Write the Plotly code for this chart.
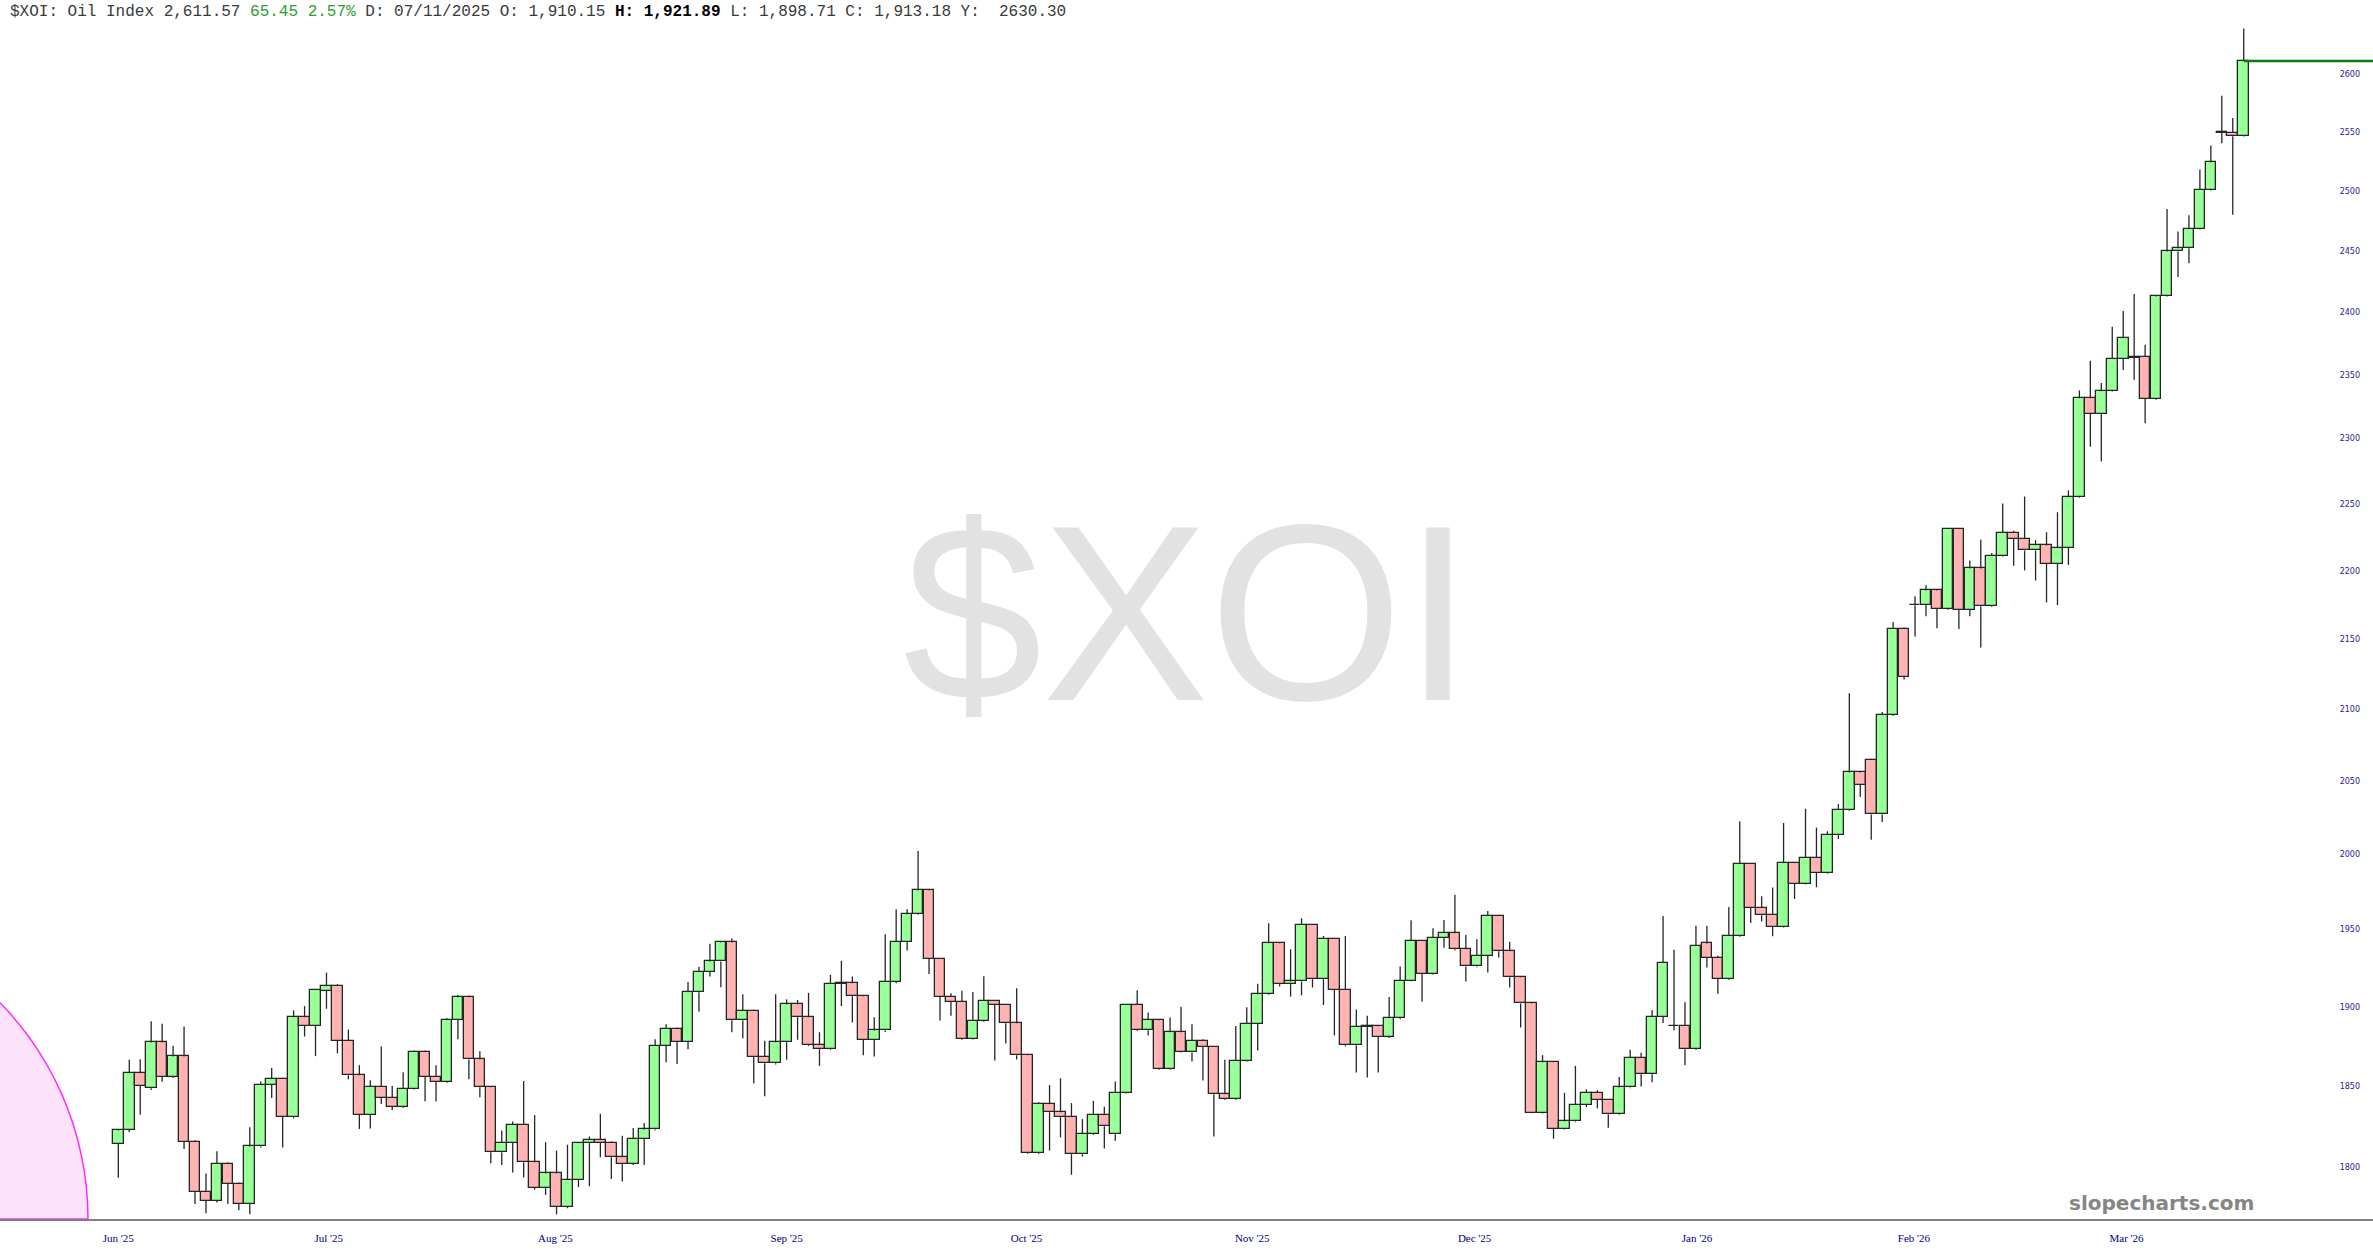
import math
import plotly.graph_objects as go

# ---------------- data ----------------
symbol = "$XOI"
name = "Oil Index"

opens = [1814.4, 1822.8, 1858.0, 1848.6, 1877.3, 1855.9, 1868.5, 1815.8, 1785.2, 1780.1,
         1802.1, 1790.3, 1778.0, 1812.8, 1850.8, 1854.6, 1830.8, 1893.3, 1887.8, 1910.15,
         1913.6, 1878.4, 1856.7, 1832.2, 1849.4, 1842.8, 1837.1, 1848.4, 1871.6, 1855.9,
         1852.7, 1891.6, 1906.0, 1866.6, 1849.2, 1809.3, 1815.2, 1826.1, 1803.2, 1787.6,
         1796.4, 1776.4, 1792.5, 1814.8, 1816.7, 1815.2, 1806.2, 1802.1, 1817.3, 1823.2,
         1875.0, 1886.1, 1877.7, 1909.3, 1922.5, 1929.2, 1941.5, 1891.4, 1897.5, 1868.1,
         1864.3, 1877.5, 1901.5, 1893.3, 1875.6, 1873.1, 1914.7, 1915.1, 1906.7, 1879.0,
         1884.9, 1915.8, 1942.1, 1960.1, 1975.8, 1930.7, 1906.3, 1903.3, 1879.8, 1891.0,
         1903.7, 1901.1, 1889.5, 1869.3, 1808.7, 1838.8, 1833.8, 1830.8, 1808.1, 1820.3,
         1832.0, 1820.3, 1845.9, 1901.1, 1885.1, 1891.4, 1860.9, 1883.8, 1871.0, 1878.4,
         1874.4, 1844.9, 1842.0, 1865.8, 1889.3, 1908.0, 1941.0, 1914.5, 1916.2, 1953.2,
         1917.7, 1944.1, 1910.8, 1875.6, 1887.4, 1887.6, 1880.7, 1892.6, 1916.8, 1942.8,
         1921.2, 1944.5, 1947.5, 1937.1, 1925.9, 1933.0, 1959.2, 1935.8, 1919.0, 1902.1,
         1833.6, 1864.8, 1823.7, 1828.1, 1838.5, 1845.8, 1841.3, 1832.5, 1849.1, 1867.5,
         1857.4, 1893.6, 1887.8, 1888.0, 1873.1, 1940.9, 1931.4, 1917.8, 1945.8, 1993.6,
         1964.4, 1959.4, 1951.8, 1994.0, 1980.3, 1997.6, 1987.6, 2012.9, 2029.9, 2055.8,
         2064.7, 2026.9, 2095.9, 2157.7, 2174.6, 2175.0, 2185.5, 2171.9, 2231.1, 2171.3,
         2201.8, 2173.9, 2211.2, 2228.4, 2223.7, 2215.1, 2218.9, 2205.0, 2217.2, 2255.1,
         2331.4, 2319.1, 2337.0, 2362.6, 2363.3, 2364.2, 2330.8, 2412.7, 2449.5, 2452.1,
         2467.9, 2500.6, 2549.9, 2548.9, 2546.12]

highs = [1823.5, 1866.4, 1866.8, 1890.8, 1889.1, 1875.2, 1887.4, 1816.5, 1796.4, 1809.9,
         1803.0, 1791.0, 1824.6, 1852.9, 1861.3, 1855.2, 1897.7, 1900.4, 1911.2, 1921.89,
         1914.5, 1885.5, 1863.0, 1853.6, 1874.8, 1850.0, 1858.6, 1872.2, 1872.2, 1863.0,
         1892.6, 1907.5, 1907.0, 1871.8, 1850.0, 1822.6, 1828.1, 1853.1, 1832.0, 1815.4,
         1810.3, 1813.8, 1815.5, 1818.9, 1832.8, 1815.8, 1819.3, 1824.0, 1827.1, 1879.4,
         1888.9, 1886.8, 1915.8, 1925.7, 1940.6, 1942.0, 1944.1, 1908.0, 1898.0, 1878.4,
         1908.0, 1904.7, 1904.3, 1908.9, 1883.8, 1920.5, 1929.6, 1919.4, 1907.2, 1893.3,
         1946.9, 1963.4, 1963.4, 2002.2, 1976.5, 1931.3, 1908.7, 1910.2, 1909.5, 1919.6,
         1904.2, 1901.6, 1911.9, 1870.0, 1840.0, 1850.6, 1854.8, 1839.4, 1829.5, 1840.8,
         1837.1, 1852.9, 1901.6, 1910.6, 1896.4, 1892.0, 1893.1, 1900.0, 1888.9, 1879.4,
         1875.0, 1866.4, 1887.8, 1899.6, 1914.7, 1954.1, 1941.5, 1937.1, 1957.4, 1953.6,
         1945.8, 1944.5, 1945.8, 1898.3, 1894.3, 1888.0, 1906.3, 1925.9, 1956.1, 1943.2,
         1950.8, 1956.3, 1972.9, 1946.4, 1943.6, 1962.1, 1959.7, 1942.0, 1919.5, 1902.5,
         1869.3, 1865.3, 1845.8, 1862.6, 1848.0, 1847.4, 1841.8, 1855.6, 1872.7, 1870.9,
         1897.9, 1958.9, 1936.7, 1902.9, 1952.5, 1952.5, 1932.8, 1964.8, 2022.3, 1994.0,
         1972.0, 1977.7, 2021.1, 1994.5, 2030.8, 2018.0, 2015.5, 2034.0, 2111.3, 2056.3,
         2065.2, 2097.9, 2162.4, 2158.5, 2181.2, 2189.3, 2186.0, 2231.7, 2231.6, 2207.7,
         2223.1, 2213.3, 2250.3, 2229.9, 2255.7, 2222.8, 2228.7, 2243.8, 2260.3, 2337.6,
         2361.0, 2343.5, 2388.2, 2400.8, 2414.7, 2373.7, 2413.2, 2484.7, 2466.0, 2479.4,
         2518.0, 2538.2, 2581.1, 2561.9, 2640.1]

lows = [1793.8, 1821.5, 1832.2, 1847.5, 1852.7, 1855.0, 1811.3, 1778.0, 1772.5, 1779.0,
        1778.0, 1774.3, 1771.9, 1812.0, 1842.6, 1812.2, 1830.0, 1881.1, 1868.7, 1898.71,
        1870.4, 1854.2, 1823.4, 1823.8, 1838.8, 1835.1, 1836.5, 1847.8, 1840.6, 1840.4,
        1852.0, 1879.4, 1854.2, 1843.0, 1802.6, 1801.5, 1797.0, 1794.0, 1786.6, 1783.5,
        1771.9, 1775.5, 1788.2, 1788.7, 1806.2, 1793.1, 1791.5, 1801.5, 1801.5, 1822.5,
        1864.9, 1863.7, 1873.1, 1896.8, 1919.4, 1912.5, 1883.8, 1880.0, 1851.5, 1843.7,
        1863.5, 1866.4, 1879.0, 1875.0, 1862.6, 1872.5, 1900.4, 1889.9, 1869.3, 1868.5,
        1884.0, 1915.0, 1936.3, 1959.5, 1921.0, 1891.2, 1894.3, 1879.0, 1879.2, 1890.5,
        1866.0, 1876.7, 1866.6, 1808.2, 1808.2, 1810.3, 1818.3, 1795.6, 1806.6, 1819.8,
        1811.6, 1816.3, 1845.3, 1884.5, 1881.7, 1860.1, 1860.3, 1870.6, 1865.3, 1853.4,
        1818.9, 1841.5, 1841.5, 1865.3, 1872.3, 1907.5, 1913.0, 1906.5, 1907.3, 1912.3,
        1901.1, 1881.7, 1874.8, 1858.4, 1855.3, 1858.4, 1880.2, 1892.0, 1916.3, 1903.2,
        1920.7, 1938.0, 1936.3, 1916.2, 1925.4, 1922.0, 1931.7, 1912.3, 1886.8, 1833.2,
        1833.0, 1817.5, 1823.2, 1827.6, 1836.9, 1836.3, 1824.3, 1832.0, 1848.6, 1849.7,
        1852.4, 1889.6, 1885.0, 1863.0, 1872.6, 1925.2, 1908.3, 1917.3, 1945.3, 1954.2,
        1955.3, 1945.6, 1951.3, 1970.1, 1979.8, 1977.9, 1987.0, 2010.2, 2029.4, 2038.9,
        2009.7, 2021.8, 2095.4, 2121.0, 2152.0, 2166.7, 2158.0, 2171.4, 2157.4, 2166.7,
        2144.0, 2173.4, 2210.7, 2203.8, 2200.3, 2192.8, 2176.8, 2174.8, 2204.4, 2254.6,
        2293.8, 2282.3, 2336.5, 2353.7, 2346.0, 2311.9, 2330.3, 2412.2, 2428.5, 2439.8,
        2467.4, 2500.1, 2540.2, 2479.8, 2545.8]

closes = [1822.6, 1858.0, 1850.0, 1877.3, 1855.9, 1868.5, 1815.8, 1785.2, 1780.1, 1802.1,
          1790.3, 1778.0, 1812.8, 1850.8, 1854.6, 1830.8, 1893.3, 1887.8, 1910.6, 1913.18,
          1878.4, 1856.7, 1832.2, 1849.4, 1842.8, 1837.1, 1848.4, 1871.6, 1855.9, 1852.7,
          1891.6, 1906.0, 1866.6, 1849.2, 1809.3, 1815.2, 1826.1, 1803.2, 1787.6, 1796.4,
          1776.4, 1792.5, 1814.8, 1816.7, 1815.2, 1806.2, 1802.1, 1817.3, 1823.2, 1875.0,
          1886.1, 1877.7, 1909.3, 1922.5, 1929.2, 1941.5, 1891.4, 1897.5, 1868.1, 1864.3,
          1877.5, 1901.5, 1893.3, 1875.6, 1873.1, 1914.7, 1915.1, 1906.7, 1879.0, 1884.9,
          1915.8, 1942.1, 1960.1, 1975.8, 1930.7, 1906.3, 1903.3, 1879.8, 1891.0, 1903.7,
          1901.1, 1889.5, 1869.3, 1808.7, 1838.8, 1833.8, 1830.8, 1808.1, 1820.3, 1832.0,
          1825.1, 1845.9, 1901.1, 1885.1, 1891.4, 1860.9, 1883.8, 1871.0, 1878.4, 1874.4,
          1844.9, 1842.0, 1865.8, 1889.3, 1908.0, 1941.0, 1914.5, 1916.2, 1953.2, 1917.7,
          1944.1, 1910.8, 1875.6, 1887.4, 1887.6, 1880.7, 1892.6, 1916.8, 1942.8, 1921.2,
          1944.5, 1947.5, 1937.1, 1925.9, 1933.0, 1959.2, 1935.8, 1919.0, 1902.1, 1833.6,
          1864.8, 1823.7, 1828.1, 1838.5, 1845.8, 1841.3, 1832.5, 1849.1, 1867.5, 1857.4,
          1893.6, 1928.4, 1888.0, 1873.1, 1939.5, 1931.4, 1917.8, 1945.8, 1993.6, 1964.4,
          1959.4, 1951.8, 1994.0, 1980.3, 1997.6, 1987.6, 2012.9, 2029.9, 2055.8, 2047.1,
          2026.9, 2095.9, 2157.7, 2123.1, 2175.0, 2185.5, 2171.9, 2231.1, 2171.3, 2201.8,
          2173.9, 2211.2, 2228.4, 2223.7, 2215.1, 2218.9, 2205.0, 2217.2, 2255.1, 2331.4,
          2319.1, 2337.0, 2362.6, 2379.0, 2364.2, 2330.8, 2412.7, 2449.5, 2452.1, 2467.9,
          2500.6, 2524.1, 2548.9, 2546.12, 2611.57]

month_labels = ["Jun '25", "Jul '25", "Aug '25", "Sep '25", "Oct '25",
                "Nov '25", "Dec '25", "Jan '26", "Feb '26", "Mar '26"]
month_label_pos = [0, 19.2, 39.9, 61.0, 82.9, 103.5, 123.8, 144.1, 163.9, 183.3]

price_ticks = [1800, 1850, 1900, 1950, 2000, 2050, 2100, 2150, 2200, 2250,
               2300, 2350, 2400, 2450, 2500, 2550, 2600]

# hovered bar shown in header
hover_idx = 19
hover_date = "07/11/2025"
hover_y = "2630.30"

# ---------------- figure ----------------
n = len(closes)
xs = list(range(n))

W, H = 2373, 1260
M_T, M_B = 20, 41
x_range = [-10.80, 205.8]
y_range = [3.247751, 3.422874]  # log10 of price

UP_FILL, DN_FILL, EDGE = "#99FF99", "#FFB3B3", "#262626"

body_lo = [min(o, c) for o, c in zip(opens, closes)]
body_hi = [max(o, c) for o, c in zip(opens, closes)]
body_len = [h - l for h, l in zip(body_hi, body_lo)]
fills = [UP_FILL if c >= o else DN_FILL for o, c in zip(opens, closes)]

# wicks (outside the bodies)
wx, wy = [], []
for i in range(n):
    if highs[i] > body_hi[i]:
        wx += [xs[i], xs[i], None]
        wy += [body_hi[i], highs[i], None]
    if lows[i] < body_lo[i]:
        wx += [xs[i], xs[i], None]
        wy += [lows[i], body_lo[i], None]

fig = go.Figure()

fig.add_trace(go.Bar(
    x=xs, y=body_len, base=body_lo, width=0.97,
    marker=dict(color=fills, line=dict(color=EDGE, width=1.3)),
    hoverinfo="skip", showlegend=False,
))
fig.add_trace(go.Scatter(
    x=wx, y=wy, mode="lines", line=dict(color=EDGE, width=1.3),
    hoverinfo="skip", showlegend=False, connectgaps=False,
))

# last price line
fig.add_trace(go.Scatter(
    x=[xs[-1], x_range[1]], y=[closes[-1], closes[-1]], mode="lines",
    line=dict(color="#0A7D0A", width=2.5), hoverinfo="skip", showlegend=False,
))

# decorative pink arc in lower-left corner (paper coordinates)
plot_h = H - M_T - M_B
cx, rpx = -222.0, 310.0
pts = []
for k in range(0, 91, 3):
    t = math.radians(k)
    pts.append(((cx + rpx * math.cos(t)) / W, (rpx * math.sin(t)) / plot_h))
path = f"M {cx / W:.5f},0 " + " ".join(f"L {px:.5f},{py:.5f}" for px, py in pts) + " Z"
fig.add_shape(type="path", path=path, xref="paper", yref="paper",
              fillcolor="#FCE3FA", line=dict(color="#FF2BFF", width=1.5), layer="below")

last = closes[-1]
prev = closes[-2]
chg = last - prev
pct = chg / prev * 100
header = (f"{symbol}: {name} {last:,.2f} "
          f"<span style='color:#2E9E2E'>{chg:.2f} {pct:.2f}%</span> "
          f"D: {hover_date} O: {opens[hover_idx]:,.2f} "
          f"<b><span style='color:#000000'>H: {highs[hover_idx]:,.2f}</span></b> "
          f"L: {lows[hover_idx]:,.2f} C: {closes[hover_idx]:,.2f} Y:\u00a0\u00a0{hover_y}")

annotations = [
    dict(text=header, xref="paper", yref="paper", x=0, y=1, xanchor="left", yanchor="middle",
         xshift=8, yshift=8, showarrow=False,
         font=dict(family="Liberation Mono, Courier New, monospace", size=16, color="#3A3A3A")),
    dict(text=symbol, xref="paper", yref="paper", x=0.5006, y=0.505, xanchor="center",
         yanchor="middle", showarrow=False,
         font=dict(family="Liberation Sans, Arial, sans-serif", size=250, color="#E2E2E2")),
    dict(text="<b>slopecharts.com</b>", xref="paper", yref="paper", x=0.911, y=0.0133,
         xanchor="center", yanchor="middle", showarrow=False,
         font=dict(family="DejaVu Sans, Verdana, sans-serif", size=20, color="#858585")),
]

fig.update_layout(
    width=W, height=H,
    margin=dict(l=0, r=0, t=M_T, b=M_B),
    paper_bgcolor="white", plot_bgcolor="white",
    showlegend=False, bargap=0,
    annotations=annotations,
    xaxis=dict(
        range=x_range, showgrid=False, zeroline=False,
        showline=True, linecolor="#808080", linewidth=2,
        tickmode="array", tickvals=month_label_pos, ticktext=month_labels,
        ticks="", ticklabelstandoff=8,
        tickfont=dict(family="Liberation Serif, Times New Roman, serif", size=11, color="#000080"),
    ),
    yaxis=dict(
        type="log", range=y_range, side="right", showgrid=False, zeroline=False,
        showline=False, tickmode="array", tickvals=price_ticks,
        ticktext=[str(v) for v in price_ticks],
        ticks="", ticklabelposition="inside", ticklabelstandoff=10,
        tickfont=dict(family="DejaVu Sans, Verdana, sans-serif", size=8, color="#1E1E96"),
    ),
)

fig.write_html("out.html", config={"displayModeBar": False},
               post_script="document.body.style.margin='0';document.body.style.padding='0';")
